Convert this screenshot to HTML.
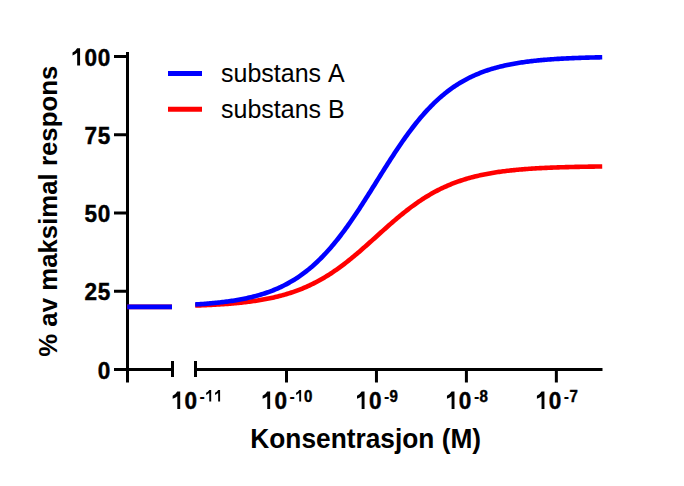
<!DOCTYPE html>
<html><head><meta charset="utf-8"><style>
html,body{margin:0;padding:0;background:#fff;}
body{width:684px;height:486px;overflow:hidden;}
svg{display:block;}
text{font-family:"Liberation Sans",sans-serif;font-kerning:none;}
.b text{font-weight:bold;}
</style></head><body>
<svg width="684" height="486" viewBox="0 0 684 486">
<rect width="684" height="486" fill="#fff"/>
<g stroke="#000" stroke-width="3" fill="none">
<line x1="127.5" y1="52" x2="127.5" y2="382.5"/>
<line x1="114" y1="369.50" x2="127.5" y2="369.50"/><line x1="114" y1="291.25" x2="127.5" y2="291.25"/><line x1="114" y1="213.00" x2="127.5" y2="213.00"/><line x1="114" y1="134.75" x2="127.5" y2="134.75"/><line x1="114" y1="56.50" x2="127.5" y2="56.50"/>
<line x1="126" y1="369.5" x2="174" y2="369.5"/>
<line x1="172.5" y1="361" x2="172.5" y2="377"/>
<line x1="195.5" y1="361" x2="195.5" y2="377"/>
<line x1="194" y1="369.5" x2="602.5" y2="369.5"/>
<line x1="286.50" y1="369.5" x2="286.50" y2="382.5"/><line x1="376.45" y1="369.5" x2="376.45" y2="382.5"/><line x1="466.40" y1="369.5" x2="466.40" y2="382.5"/><line x1="556.35" y1="369.5" x2="556.35" y2="382.5"/>
</g>
<g class="b" fill="#000">
<g transform="translate(97.35,378.60) scale(1,1.015)"><text transform="translate(6.67,0) scale(0.94,1)" x="0" y="0" font-size="24" text-anchor="middle" stroke="#000" stroke-width="0.426">0</text></g>
<g transform="translate(84.00,300.35) scale(1,1.015)"><text transform="translate(6.67,0) scale(0.94,1)" x="0" y="0" font-size="24" text-anchor="middle" stroke="#000" stroke-width="0.426">2</text><text transform="translate(20.02,0) scale(0.94,1)" x="0" y="0" font-size="24" text-anchor="middle" stroke="#000" stroke-width="0.426">5</text></g>
<g transform="translate(84.00,222.10) scale(1,1.015)"><text transform="translate(6.67,0) scale(0.94,1)" x="0" y="0" font-size="24" text-anchor="middle" stroke="#000" stroke-width="0.426">5</text><text transform="translate(20.02,0) scale(0.94,1)" x="0" y="0" font-size="24" text-anchor="middle" stroke="#000" stroke-width="0.426">0</text></g>
<g transform="translate(84.00,143.85) scale(1,1.015)"><text transform="translate(6.67,0) scale(0.94,1)" x="0" y="0" font-size="24" text-anchor="middle" stroke="#000" stroke-width="0.426">7</text><text transform="translate(20.02,0) scale(0.94,1)" x="0" y="0" font-size="24" text-anchor="middle" stroke="#000" stroke-width="0.426">5</text></g>
<g transform="translate(70.66,65.60) scale(1,1.015)"><path d="M803,0L555,0L555,1070Q390,930 159,846L159,1101Q390,1190 555,1466L803,1466Z" transform="translate(0.00,0) scale(0.011719,-0.011719)"/><text transform="translate(20.02,0) scale(0.94,1)" x="0" y="0" font-size="24" text-anchor="middle" stroke="#000" stroke-width="0.426">0</text><text transform="translate(33.37,0) scale(0.94,1)" x="0" y="0" font-size="24" text-anchor="middle" stroke="#000" stroke-width="0.426">0</text></g>
<g transform="translate(170.79,408.9) scale(1,1.015)"><path d="M803,0L555,0L555,1070Q390,930 159,846L159,1101Q390,1190 555,1466L803,1466Z" transform="translate(0.00,0) scale(0.011719,-0.011719)"/><text transform="translate(20.02,0) scale(0.94,1)" x="0" y="0" font-size="24" text-anchor="middle" stroke="#000" stroke-width="0.426">0</text></g>
<g transform="translate(199.59,401.6) scale(1,1.015)"><text x="0.00" y="0" font-size="16">-</text><path d="M803,0L555,0L555,1070Q390,930 159,846L159,1101Q390,1190 555,1466L803,1466Z" transform="translate(5.33,0) scale(0.007812,-0.007812)"/><path d="M803,0L555,0L555,1070Q390,930 159,846L159,1101Q390,1190 555,1466L803,1466Z" transform="translate(14.23,0) scale(0.007812,-0.007812)"/></g>
<g transform="translate(260.74,408.9) scale(1,1.015)"><path d="M803,0L555,0L555,1070Q390,930 159,846L159,1101Q390,1190 555,1466L803,1466Z" transform="translate(0.00,0) scale(0.011719,-0.011719)"/><text transform="translate(20.02,0) scale(0.94,1)" x="0" y="0" font-size="24" text-anchor="middle" stroke="#000" stroke-width="0.426">0</text></g>
<g transform="translate(289.54,401.6) scale(1,1.015)"><text x="0.00" y="0" font-size="16">-</text><path d="M803,0L555,0L555,1070Q390,930 159,846L159,1101Q390,1190 555,1466L803,1466Z" transform="translate(5.33,0) scale(0.007812,-0.007812)"/><text transform="translate(18.68,0) scale(0.94,1)" x="0" y="0" font-size="16" text-anchor="middle" stroke="#000" stroke-width="0.426">0</text></g>
<g transform="translate(355.14,408.9) scale(1,1.015)"><path d="M803,0L555,0L555,1070Q390,930 159,846L159,1101Q390,1190 555,1466L803,1466Z" transform="translate(0.00,0) scale(0.011719,-0.011719)"/><text transform="translate(20.02,0) scale(0.94,1)" x="0" y="0" font-size="24" text-anchor="middle" stroke="#000" stroke-width="0.426">0</text></g>
<g transform="translate(383.93,401.6) scale(1,1.015)"><text x="0.00" y="0" font-size="16">-</text><text transform="translate(9.78,0) scale(0.94,1)" x="0" y="0" font-size="16" text-anchor="middle" stroke="#000" stroke-width="0.426">9</text></g>
<g transform="translate(445.09,408.9) scale(1,1.015)"><path d="M803,0L555,0L555,1070Q390,930 159,846L159,1101Q390,1190 555,1466L803,1466Z" transform="translate(0.00,0) scale(0.011719,-0.011719)"/><text transform="translate(20.02,0) scale(0.94,1)" x="0" y="0" font-size="24" text-anchor="middle" stroke="#000" stroke-width="0.426">0</text></g>
<g transform="translate(473.88,401.6) scale(1,1.015)"><text x="0.00" y="0" font-size="16">-</text><text transform="translate(9.78,0) scale(0.94,1)" x="0" y="0" font-size="16" text-anchor="middle" stroke="#000" stroke-width="0.426">8</text></g>
<g transform="translate(535.04,408.9) scale(1,1.015)"><path d="M803,0L555,0L555,1070Q390,930 159,846L159,1101Q390,1190 555,1466L803,1466Z" transform="translate(0.00,0) scale(0.011719,-0.011719)"/><text transform="translate(20.02,0) scale(0.94,1)" x="0" y="0" font-size="24" text-anchor="middle" stroke="#000" stroke-width="0.426">0</text></g>
<g transform="translate(563.83,401.6) scale(1,1.015)"><text x="0.00" y="0" font-size="16">-</text><text transform="translate(9.78,0) scale(0.94,1)" x="0" y="0" font-size="16" text-anchor="middle" stroke="#000" stroke-width="0.426">7</text></g>
<g transform="translate(365.7,448.3) scale(1,1.05)"><text x="0" y="0" font-size="26.3" text-anchor="middle">Konsentrasjon (M)</text></g>
<g transform="translate(56.9,211.25) rotate(-90) scale(1,1.015)"><text x="0" y="0" font-size="25.8" text-anchor="middle">% av maksimal respons</text></g>
</g>
<g fill="none" stroke-width="4.6" stroke-linecap="butt">
<line x1="168" y1="73.4" x2="202" y2="73.4" stroke="#0000ff" stroke-width="5"/>
<line x1="168" y1="109.3" x2="202" y2="109.3" stroke="#ff0000" stroke-width="5"/>
<line x1="127.2" y1="306.90" x2="172" y2="306.90" stroke="#ff0000"/>
<line x1="127.2" y1="306.90" x2="172" y2="306.90" stroke="#0000ff"/>
<path d="M195.20,305.55 L196.56,305.51 L197.91,305.46 L199.27,305.41 L200.63,305.35 L201.98,305.30 L203.34,305.24 L204.70,305.19 L206.05,305.13 L207.41,305.06 L208.77,305.00 L210.12,304.93 L211.48,304.87 L212.84,304.79 L214.20,304.72 L215.55,304.65 L216.91,304.57 L218.27,304.49 L219.62,304.40 L220.98,304.32 L222.34,304.23 L223.69,304.13 L225.05,304.04 L226.41,303.94 L227.76,303.84 L229.12,303.73 L230.48,303.62 L231.83,303.51 L233.19,303.39 L234.55,303.27 L235.90,303.15 L237.26,303.02 L238.62,302.88 L239.97,302.75 L241.33,302.60 L242.69,302.46 L244.04,302.30 L245.40,302.15 L246.76,301.99 L248.11,301.82 L249.47,301.64 L250.83,301.47 L252.18,301.28 L253.54,301.09 L254.90,300.90 L256.25,300.69 L257.61,300.48 L258.97,300.27 L260.32,300.04 L261.68,299.81 L263.04,299.58 L264.39,299.33 L265.75,299.08 L267.11,298.82 L268.47,298.55 L269.82,298.27 L271.18,297.99 L272.54,297.69 L273.89,297.39 L275.25,297.08 L276.61,296.75 L277.96,296.42 L279.32,296.08 L280.68,295.73 L282.03,295.37 L283.39,294.99 L284.75,294.61 L286.10,294.21 L287.46,293.81 L288.82,293.39 L290.17,292.96 L291.53,292.52 L292.89,292.06 L294.24,291.59 L295.60,291.11 L296.96,290.62 L298.31,290.11 L299.67,289.59 L301.03,289.06 L302.38,288.51 L303.74,287.95 L305.10,287.37 L306.45,286.78 L307.81,286.17 L309.17,285.55 L310.52,284.91 L311.88,284.26 L313.24,283.59 L314.59,282.91 L315.95,282.21 L317.31,281.50 L318.66,280.77 L320.02,280.02 L321.38,279.26 L322.73,278.48 L324.09,277.68 L325.45,276.87 L326.81,276.04 L328.16,275.19 L329.52,274.33 L330.88,273.45 L332.23,272.56 L333.59,271.65 L334.95,270.72 L336.30,269.78 L337.66,268.83 L339.02,267.85 L340.37,266.86 L341.73,265.86 L343.09,264.84 L344.44,263.81 L345.80,262.77 L347.16,261.71 L348.51,260.64 L349.87,259.55 L351.23,258.45 L352.58,257.34 L353.94,256.22 L355.30,255.09 L356.65,253.95 L358.01,252.79 L359.37,251.63 L360.72,250.46 L362.08,249.28 L363.44,248.10 L364.79,246.90 L366.15,245.71 L367.51,244.50 L368.86,243.29 L370.22,242.08 L371.58,240.86 L372.93,239.64 L374.29,238.42 L375.65,237.20 L377.00,235.98 L378.36,234.75 L379.72,233.53 L381.07,232.31 L382.43,231.09 L383.79,229.88 L385.15,228.67 L386.50,227.46 L387.86,226.26 L389.22,225.07 L390.57,223.88 L391.93,222.70 L393.29,221.53 L394.64,220.37 L396.00,219.21 L397.36,218.07 L398.71,216.93 L400.07,215.81 L401.43,214.70 L402.78,213.60 L404.14,212.51 L405.50,211.44 L406.85,210.37 L408.21,209.33 L409.57,208.29 L410.92,207.27 L412.28,206.27 L413.64,205.28 L414.99,204.30 L416.35,203.34 L417.71,202.40 L419.06,201.47 L420.42,200.56 L421.78,199.66 L423.13,198.78 L424.49,197.91 L425.85,197.07 L427.20,196.23 L428.56,195.42 L429.92,194.62 L431.27,193.84 L432.63,193.07 L433.99,192.32 L435.34,191.58 L436.70,190.87 L438.06,190.16 L439.41,189.48 L440.77,188.81 L442.13,188.15 L443.49,187.51 L444.84,186.89 L446.20,186.28 L447.56,185.69 L448.91,185.11 L450.27,184.54 L451.63,183.99 L452.98,183.45 L454.34,182.93 L455.70,182.42 L457.05,181.93 L458.41,181.44 L459.77,180.97 L461.12,180.52 L462.48,180.07 L463.84,179.64 L465.19,179.22 L466.55,178.81 L467.91,178.41 L469.26,178.03 L470.62,177.65 L471.98,177.29 L473.33,176.93 L474.69,176.59 L476.05,176.26 L477.40,175.93 L478.76,175.62 L480.12,175.31 L481.47,175.02 L482.83,174.73 L484.19,174.45 L485.54,174.18 L486.90,173.92 L488.26,173.66 L489.61,173.42 L490.97,173.18 L492.33,172.95 L493.68,172.72 L495.04,172.51 L496.40,172.30 L497.76,172.09 L499.11,171.89 L500.47,171.70 L501.83,171.52 L503.18,171.34 L504.54,171.16 L505.90,170.99 L507.25,170.83 L508.61,170.67 L509.97,170.52 L511.32,170.37 L512.68,170.23 L514.04,170.09 L515.39,169.96 L516.75,169.83 L518.11,169.70 L519.46,169.58 L520.82,169.46 L522.18,169.35 L523.53,169.24 L524.89,169.13 L526.25,169.03 L527.60,168.93 L528.96,168.83 L530.32,168.74 L531.67,168.65 L533.03,168.56 L534.39,168.48 L535.74,168.40 L537.10,168.32 L538.46,168.24 L539.81,168.17 L541.17,168.10 L542.53,168.03 L543.88,167.96 L545.24,167.90 L546.60,167.83 L547.95,167.77 L549.31,167.72 L550.67,167.66 L552.02,167.61 L553.38,167.55 L554.74,167.50 L556.10,167.45 L557.45,167.41 L558.81,167.36 L560.17,167.32 L561.52,167.27 L562.88,167.23 L564.24,167.19 L565.59,167.15 L566.95,167.12 L568.31,167.08 L569.66,167.04 L571.02,167.01 L572.38,166.98 L573.73,166.95 L575.09,166.92 L576.45,166.89 L577.80,166.86 L579.16,166.83 L580.52,166.80 L581.87,166.78 L583.23,166.75 L584.59,166.73 L585.94,166.71 L587.30,166.68 L588.66,166.66 L590.01,166.64 L591.37,166.62 L592.73,166.60 L594.08,166.58 L595.44,166.57 L596.80,166.55 L598.15,166.53 L599.51,166.52 L600.87,166.50 L602.22,166.48" stroke="#ff0000"/>
<path d="M195.20,304.50 L196.56,304.42 L197.91,304.33 L199.27,304.24 L200.63,304.15 L201.98,304.05 L203.34,303.96 L204.70,303.85 L206.05,303.75 L207.41,303.64 L208.77,303.52 L210.12,303.41 L211.48,303.28 L212.84,303.16 L214.20,303.03 L215.55,302.89 L216.91,302.75 L218.27,302.61 L219.62,302.46 L220.98,302.31 L222.34,302.15 L223.69,301.98 L225.05,301.81 L226.41,301.64 L227.76,301.45 L229.12,301.27 L230.48,301.07 L231.83,300.87 L233.19,300.66 L234.55,300.45 L235.90,300.23 L237.26,300.00 L238.62,299.76 L239.97,299.51 L241.33,299.26 L242.69,299.00 L244.04,298.73 L245.40,298.45 L246.76,298.16 L248.11,297.87 L249.47,297.56 L250.83,297.24 L252.18,296.91 L253.54,296.57 L254.90,296.22 L256.25,295.86 L257.61,295.49 L258.97,295.11 L260.32,294.71 L261.68,294.30 L263.04,293.88 L264.39,293.44 L265.75,293.00 L267.11,292.53 L268.47,292.05 L269.82,291.56 L271.18,291.05 L272.54,290.53 L273.89,289.99 L275.25,289.44 L276.61,288.86 L277.96,288.27 L279.32,287.67 L280.68,287.04 L282.03,286.39 L283.39,285.73 L284.75,285.05 L286.10,284.35 L287.46,283.62 L288.82,282.88 L290.17,282.11 L291.53,281.33 L292.89,280.52 L294.24,279.69 L295.60,278.83 L296.96,277.96 L298.31,277.06 L299.67,276.13 L301.03,275.18 L302.38,274.21 L303.74,273.21 L305.10,272.18 L306.45,271.13 L307.81,270.05 L309.17,268.95 L310.52,267.81 L311.88,266.66 L313.24,265.47 L314.59,264.25 L315.95,263.01 L317.31,261.74 L318.66,260.44 L320.02,259.11 L321.38,257.75 L322.73,256.37 L324.09,254.95 L325.45,253.51 L326.81,252.03 L328.16,250.53 L329.52,249.00 L330.88,247.44 L332.23,245.85 L333.59,244.23 L334.95,242.59 L336.30,240.91 L337.66,239.21 L339.02,237.48 L340.37,235.73 L341.73,233.94 L343.09,232.14 L344.44,230.30 L345.80,228.44 L347.16,226.56 L348.51,224.65 L349.87,222.72 L351.23,220.77 L352.58,218.80 L353.94,216.81 L355.30,214.79 L356.65,212.76 L358.01,210.71 L359.37,208.65 L360.72,206.57 L362.08,204.47 L363.44,202.36 L364.79,200.24 L366.15,198.11 L367.51,195.97 L368.86,193.82 L370.22,191.66 L371.58,189.50 L372.93,187.33 L374.29,185.16 L375.65,182.99 L377.00,180.81 L378.36,178.64 L379.72,176.47 L381.07,174.30 L382.43,172.13 L383.79,169.97 L385.15,167.82 L386.50,165.68 L387.86,163.55 L389.22,161.42 L390.57,159.31 L391.93,157.22 L393.29,155.13 L394.64,153.06 L396.00,151.01 L397.36,148.98 L398.71,146.96 L400.07,144.96 L401.43,142.99 L402.78,141.03 L404.14,139.10 L405.50,137.19 L406.85,135.30 L408.21,133.44 L409.57,131.60 L410.92,129.78 L412.28,128.00 L413.64,126.24 L414.99,124.50 L416.35,122.80 L417.71,121.12 L419.06,119.47 L420.42,117.84 L421.78,116.25 L423.13,114.68 L424.49,113.15 L425.85,111.64 L427.20,110.16 L428.56,108.71 L429.92,107.29 L431.27,105.90 L432.63,104.53 L433.99,103.20 L435.34,101.90 L436.70,100.62 L438.06,99.37 L439.41,98.15 L440.77,96.96 L442.13,95.79 L443.49,94.66 L444.84,93.55 L446.20,92.46 L447.56,91.41 L448.91,90.38 L450.27,89.37 L451.63,88.39 L452.98,87.44 L454.34,86.51 L455.70,85.61 L457.05,84.72 L458.41,83.87 L459.77,83.03 L461.12,82.22 L462.48,81.43 L463.84,80.66 L465.19,79.91 L466.55,79.18 L467.91,78.48 L469.26,77.79 L470.62,77.12 L471.98,76.48 L473.33,75.85 L474.69,75.24 L476.05,74.64 L477.40,74.07 L478.76,73.51 L480.12,72.97 L481.47,72.44 L482.83,71.93 L484.19,71.43 L485.54,70.95 L486.90,70.49 L488.26,70.04 L489.61,69.60 L490.97,69.17 L492.33,68.76 L493.68,68.36 L495.04,67.98 L496.40,67.60 L497.76,67.24 L499.11,66.89 L500.47,66.55 L501.83,66.22 L503.18,65.90 L504.54,65.59 L505.90,65.29 L507.25,65.00 L508.61,64.72 L509.97,64.45 L511.32,64.19 L512.68,63.93 L514.04,63.68 L515.39,63.45 L516.75,63.22 L518.11,62.99 L519.46,62.78 L520.82,62.57 L522.18,62.36 L523.53,62.17 L524.89,61.98 L526.25,61.80 L527.60,61.62 L528.96,61.45 L530.32,61.28 L531.67,61.12 L533.03,60.97 L534.39,60.82 L535.74,60.67 L537.10,60.53 L538.46,60.40 L539.81,60.27 L541.17,60.14 L542.53,60.02 L543.88,59.90 L545.24,59.78 L546.60,59.67 L547.95,59.57 L549.31,59.46 L550.67,59.36 L552.02,59.27 L553.38,59.17 L554.74,59.08 L556.10,59.00 L557.45,58.91 L558.81,58.83 L560.17,58.75 L561.52,58.67 L562.88,58.60 L564.24,58.53 L565.59,58.46 L566.95,58.39 L568.31,58.33 L569.66,58.27 L571.02,58.21 L572.38,58.15 L573.73,58.09 L575.09,58.04 L576.45,57.99 L577.80,57.94 L579.16,57.89 L580.52,57.84 L581.87,57.80 L583.23,57.75 L584.59,57.71 L585.94,57.67 L587.30,57.63 L588.66,57.59 L590.01,57.55 L591.37,57.52 L592.73,57.48 L594.08,57.45 L595.44,57.42 L596.80,57.39 L598.15,57.36 L599.51,57.33 L600.87,57.30 L602.22,57.27" stroke="#0000ff"/>
</g>
<g fill="#000">
<g transform="translate(221,82) scale(1,1.05)"><text x="0" y="0" font-size="25">substans A</text></g>
<g transform="translate(221,118) scale(1,1.05)"><text x="0" y="0" font-size="25">substans B</text></g>
</g>
</svg>
</body></html>
